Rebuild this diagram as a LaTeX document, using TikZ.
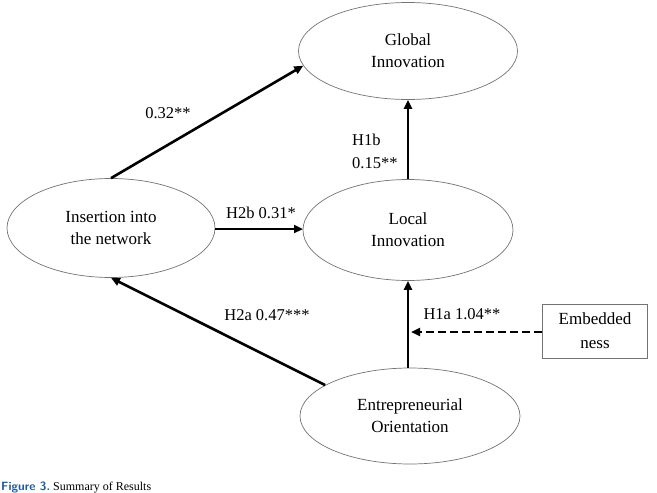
\documentclass[tikz,border=0pt]{standalone}
\usepackage{fontspec}
\setmainfont{Liberation Serif}
\usetikzlibrary{arrows.meta,shapes.geometric}
\definecolor{capblue}{RGB}{30,90,160}
\begin{document}
\begin{tikzpicture}[x=1pt,y=-1pt,
  construct/.style={ellipse,draw=black!55,line width=0.7pt,align=center,font=\fontsize{17}{22}\selectfont,inner sep=0pt},
  path/.style={line width=2.6pt,-{Triangle[length=9pt,width=8pt]}},
  dpath/.style={line width=2.4pt,dash pattern=on 8pt off 4pt,-{Triangle[length=9pt,width=8pt]}},
  lab/.style={font=\fontsize{16.5}{22}\selectfont,inner sep=0pt,align=left}]
\useasboundingbox (0,0) rectangle (657,493);
\clip (0,0) rectangle (657,493);
\node[construct,minimum width=219pt,minimum height=97pt] (glob) at (408,51) {Global\\Innovation};
\node[construct,minimum width=210pt,minimum height=101pt] (loc) at (408,230) {Local\\Innovation};
\node[construct,minimum width=208pt,minimum height=99pt] (ins) at (111,228) {Insertion into\\the network};
\node[construct,minimum width=220pt,minimum height=96pt] (entr) at (410,416) {Entrepreneurial\\Orientation};
\node[draw=black!55,line width=0.7pt,minimum width=105pt,minimum height=54pt,align=center,inner sep=0pt,font=\fontsize{17}{24}\selectfont] (emb) at (595,331) {Embedded\\ness};
\coordinate (h1a) at (411,332);
\coordinate (h2b) at (303,229);
\draw[path] (ins.north) -- (glob.188);
\draw[path] (ins.east |- h2b) -- (h2b);
\draw[path] (loc.north) -- (glob.south);
\draw[path] (entr.north -| loc.south) -- (loc.south);
\draw[path] (entr.160) -- (ins.south);
\draw[dpath] (emb.west |- h1a) -- (h1a);
\node[lab] (l1) at (168,113) {0.32**};
\node[lab] (l2) at (261,213) {H2b 0.31*};
\node[lab,anchor=west] (l3) at (352,140) {H1b};
\node[lab,anchor=west] (l4) at (352,163) {0.15**};
\node[lab] (l5) at (462,314) {H1a 1.04**};
\node[lab] (l6) at (267,315) {H2a 0.47***};
\node[anchor=base west,inner sep=0pt,font=\fontsize{12}{14}\selectfont] (cap) at (1,490) {{\sffamily\bfseries\color{capblue}Figure 3.}\ Summary of Results};
\end{tikzpicture}
\end{document}
